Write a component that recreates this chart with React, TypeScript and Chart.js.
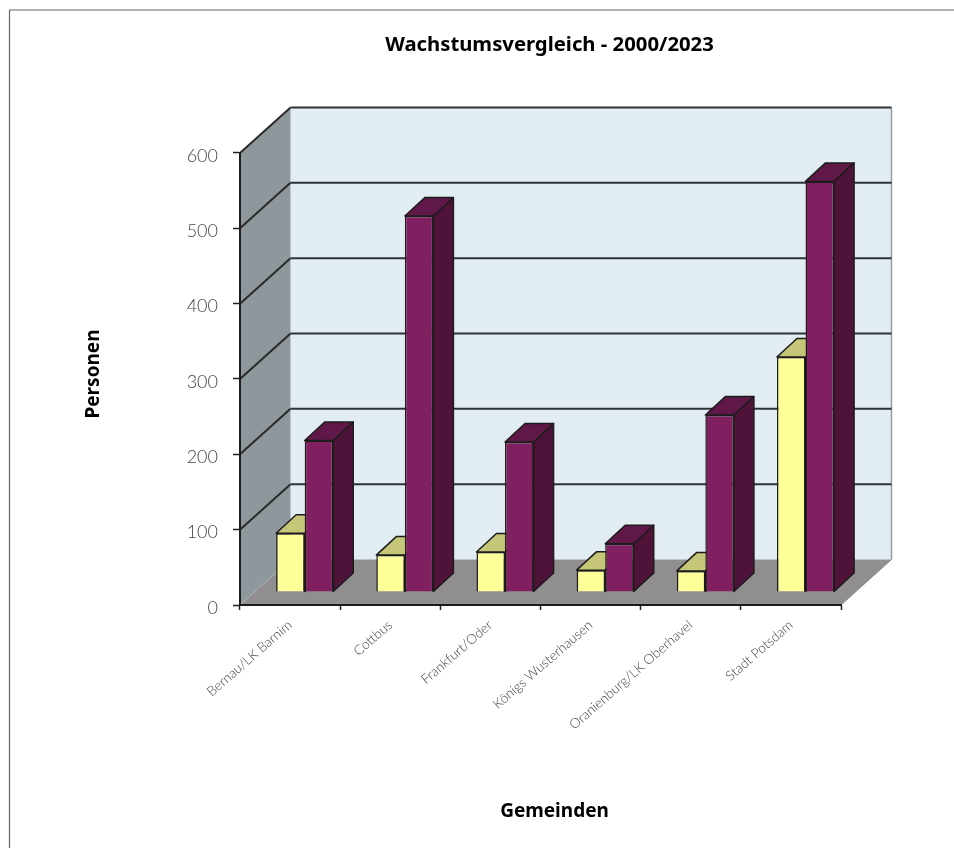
import React, { useEffect, useRef } from "react";
import { Chart, registerables } from "chart.js";

Chart.register(...registerables);

const categories = [
  "Bernau/LK Barnim",
  "Cottbus",
  "Frankfurt/Oder",
  "Königs Wusterhausen",
  "Oranienburg/LK Oberhavel",
  "Stadt Potsdam",
];
const values2000 = [78, 49, 53, 29, 28, 312];
const values2023 = [201, 499, 199, 64, 235, 545];
const yTicks = [0, 100, 200, 300, 400, 500, 600];

const DEPTH_X = 50.5;
const DEPTH_Y = 45.5;
const BAR_SHIFT_X = 14.6;
const BAR_SHIFT_Y = -13;
const BAR_DEPTH_X = 20;
const BAR_DEPTH_Y = 18.5;
const EDGE = "#1c1c1c";

function poly(ctx: CanvasRenderingContext2D, pts: number[][], fill: string, stroke?: string, lw = 1) {
  ctx.beginPath();
  pts.forEach((p, i) => (i ? ctx.lineTo(p[0], p[1]) : ctx.moveTo(p[0], p[1])));
  ctx.closePath();
  ctx.fillStyle = fill;
  ctx.fill();
  if (stroke) {
    ctx.strokeStyle = stroke;
    ctx.lineWidth = lw;
    ctx.lineJoin = "round";
    ctx.stroke();
  }
}

function segment(ctx: CanvasRenderingContext2D, x1: number, y1: number, x2: number, y2: number, c: string, w: number) {
  ctx.beginPath();
  ctx.moveTo(x1, y1);
  ctx.lineTo(x2, y2);
  ctx.strokeStyle = c;
  ctx.lineWidth = w;
  ctx.stroke();
}

const scene3d = {
  id: "scene3d",
  afterLayout(chart: any) {
    const shift = (scale: any, method: string, dx: number, dy: number) => {
      const orig = scale[method];
      scale[method] = function (...a: any[]) {
        chart.ctx.save();
        chart.ctx.translate(dx, dy);
        orig.apply(this, a);
        chart.ctx.restore();
      };
    };
    shift(chart.scales.x, "drawTitle", 14, 0);
    shift(chart.scales.y, "drawTitle", 0, -5);
    shift(chart.scales.y, "drawLabels", 0, 3);
    const tb = chart.titleBlock;
    tb.left += 129;
    tb.right += 129;
  },
  beforeDraw(chart: any) {
    const { ctx, chartArea: a, scales } = chart;
    ctx.save();
    // page frame
    segment(ctx, 9.5, 10, 9.5, 848, "#666", 1.2);
    segment(ctx, 9, 10, 954, 10, "#666", 1.2);
    const L = a.left, R = a.right, T = a.top, B = a.bottom;
    const dx = DEPTH_X, dy = DEPTH_Y;
    poly(ctx, [[L + dx, T - dy], [R + dx, T - dy], [R + dx, B - dy], [L + dx, B - dy]], "#e1ecf3");
    poly(ctx, [[L, T], [L + dx, T - dy], [L + dx, B - dy], [L, B]], "#8e979b");
    poly(ctx, [[L, B], [R, B], [R + dx, B - dy], [L + dx, B - dy]], "#908e8e");
    segment(ctx, R + dx, T - dy, R + dx, B - dy, "#9a9d9f", 1.5);
    segment(ctx, R, B, R + dx, B - dy, "#8a8a8a", 1);
    segment(ctx, L, B, L + dx, B - dy, "#a8adb0", 1);
    yTicks.slice(1).forEach((v) => {
      const y = scales.y.getPixelForValue(v);
      segment(ctx, L, y, L + dx, y - dy, "#2a2a2a", 2);
      segment(ctx, L + dx, y - dy, R + dx, y - dy, "#2f3335", 2);
    });
    ctx.restore();
  },
  beforeDatasetsDraw(chart: any) {
    const { ctx } = chart;
    ctx.save();
    ctx.translate(BAR_SHIFT_X, BAR_SHIFT_Y);
    const faces = [
      { meta: chart.getDatasetMeta(0), top: "#c6c678", side: "#8f8f55" },
      { meta: chart.getDatasetMeta(1), top: "#5f1848", side: "#4f1339" },
    ];
    faces.forEach(({ meta, top, side }) => {
      meta.data.forEach((bar: any) => {
        const { x, y, base, width } = bar.getProps(["x", "y", "base", "width"], true);
        const l = x - width / 2, r = x + width / 2;
        const X = BAR_DEPTH_X, Y = BAR_DEPTH_Y;
        poly(ctx, [[r, y], [r + X, y - Y], [r + X, base - Y], [r, base]], side, EDGE, 1.5);
        poly(ctx, [[l, y], [l + X, y - Y], [r + X, y - Y], [r, y]], top, EDGE, 1.5);
      });
    });
  },
  afterDatasetsDraw(chart: any) {
    chart.ctx.restore();
  },
};

export default function App() {
  const ref = useRef<HTMLCanvasElement>(null);
  useEffect(() => {
    if (!ref.current) return;
    const tickFont = { family: "Lato, 'Noto Sans', sans-serif", weight: 300 as any };
    const titleFamily = "'Noto Sans', sans-serif";
    const chart = new Chart(ref.current, {
      type: "bar",
      data: {
        labels: categories,
        datasets: [
          { label: "2000", data: values2000, backgroundColor: "#ffff99", borderColor: EDGE, borderWidth: 1.5 },
          { label: "2023", data: values2023, backgroundColor: "#802060", borderColor: EDGE, borderWidth: 1.5 },
        ],
      },
      options: {
        responsive: false,
        animation: false,
        layout: { padding: { left: 0, top: 0, right: 113, bottom: 0 } },
        datasets: { bar: { barPercentage: 1, categoryPercentage: 0.57 } },
        plugins: {
          legend: { display: false },
          tooltip: { enabled: false },
          title: {
            display: true,
            text: "Wachstumsvergleich - 2000/2023",
            color: "#000",
            font: { family: titleFamily, size: 20.3, weight: "bold" },
            padding: { top: 33, bottom: 95.6 },
          },
        },
        scales: {
          x: {
            afterFit(s: any) { s.height = 243; },
            grid: { drawOnChartArea: false, color: "#222", tickLength: 5, tickWidth: 1.5 },
            border: { color: EDGE, width: 2 },
            ticks: {
              color: "#444",
              font: { ...tickFont, size: 13.5 },
              maxRotation: 41,
              minRotation: 41,
              padding: 7,
              autoSkip: false,
            },
            title: {
              display: true,
              text: "Gemeinden",
              color: "#000",
              font: { family: titleFamily, size: 19, weight: "bold" },
              padding: { top: 0, bottom: 24.6 },
            },
          },
          y: {
            min: 0,
            max: 600,
            afterFit(s: any) { s.width = 240; },
            afterBuildTicks(s: any) { s.ticks = yTicks.map((value) => ({ value })); },
            grid: { drawOnChartArea: false, color: "#222", tickLength: 7, tickWidth: 1.5 },
            border: { color: EDGE, width: 2 },
            ticks: {
              color: "#444",
              font: { ...tickFont, size: 18 },
              padding: 15,
            },
            title: {
              display: true,
              text: "Personen",
              color: "#000",
              font: { family: titleFamily, size: 19, weight: "bold" },
              padding: { top: 82.6, bottom: 0 },
            },
          },
        },
      },
      plugins: [scene3d],
    } as any);
    return () => chart.destroy();
  }, []);
  return (
    <canvas
      ref={ref}
      width={954}
      height={848}
      style={{ position: "absolute", left: 0, top: 0, display: "block", filter: "blur(0.5px)" }}
    />
  );
}
